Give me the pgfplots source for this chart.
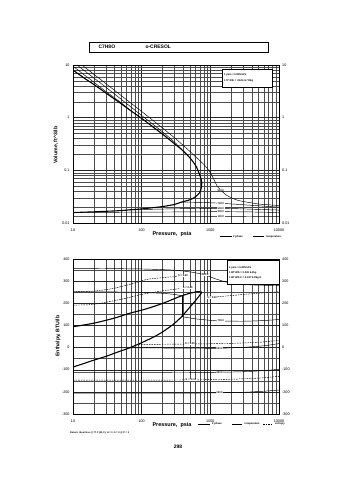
\documentclass[border=0pt]{standalone}
\usepackage{pgfplots}
\pgfplotsset{compat=1.18}
\usepackage{fontspec}
\setmainfont{Liberation Sans}
\tikzset{
  domeline/.style={line width=1.1pt, black, smooth, tension=0.4},
  templine/.style={line width=0.45pt, black, smooth, tension=0.4},
  vline/.style={line width=0.4pt, black},
  entline/.style={line width=0.45pt, black, dash pattern=on 1.6pt off 1pt, smooth, tension=0.4},
  clab/.style={font=\fontsize{2.6}{3}\selectfont\bfseries, fill=white, inner sep=0.3pt},
  rlab/.style={font=\fontsize{3.7}{4}\selectfont, anchor=west, inner sep=0pt, xshift=3bp},
  smalltxt/.style={anchor=west, font=\fontsize{2.6}{3}\selectfont\bfseries, inner sep=0pt}
}
\begin{document}
\begin{tikzpicture}
\path[use as bounding box] (0bp,0bp) rectangle (355bp,480bp);
% ---------------- Top chart: Volume ----------------
\begin{axis}[at={(73bp,257bp)}, anchor=south west, scale only axis, width=206bp, height=158bp,
  xmode=log, ymode=log, xmin=10, xmax=10000, ymin=0.01, ymax=10,
  grid=both, clip mode=individual,
  major grid style={draw=black!85, line width=0.35pt},
  minor grid style={draw=black!70, line width=0.3pt},
  axis line style={line width=0.5pt},
  major tick length=0pt, minor tick length=0pt,
  tick label style={font=\fontsize{3.7}{4}\selectfont},
  xtick={10,100,1000,10000}, xticklabels={10,100,1000,10000},
  minor xtick={20,30,40,50,60,70,80,90,200,300,400,500,600,700,800,900,2000,3000,4000,5000,6000,7000,8000,9000},
  xticklabel style={yshift=-2bp},
  ytick={0.01,0.1,1,10}, yticklabels={0.01,0.1,1,10},
  minor ytick={0.02,0.03,0.04,0.05,0.06,0.07,0.08,0.09,0.2,0.3,0.4,0.5,0.6,0.7,0.8,0.9,2,3,4,5,6,7,8,9}]
\addplot[domeline] coordinates {(10,8.0) (15,5.5) (20,4.3) (30,2.95) (50,1.85) (67,1.40) (100,0.97) (150,0.65) (200,0.49) (300,0.32) (383,0.248) (500,0.175) (600,0.128) (650,0.105) (700,0.082) (735,0.068) (750,0.057) (745,0.049) (725,0.042) (690,0.037) (600,0.031) (500,0.0275) (383,0.025) (300,0.0225) (200,0.0205) (100,0.0185) (67,0.0178) (50,0.0172) (20,0.0163) (10,0.0158)};
\addplot[templine] coordinates {(10,9.5) (15,6.3) (20,4.75) (30,3.15) (50,1.93) (67,1.40)};
\addplot[templine] coordinates {(11.5,10) (15,7.6) (20,5.7) (30,3.8) (50,2.25) (100,1.1) (200,0.54) (300,0.345) (383,0.248)};
\addplot[templine] coordinates {(13.5,10) (20,6.7) (30,4.45) (50,2.65) (100,1.31) (200,0.64) (300,0.415) (450,0.262) (600,0.185) (800,0.13) (950,0.10) (1100,0.072) (1250,0.051) (1429,0.042) (1700,0.034) (2500,0.027) (5000,0.0230) (10000,0.0215)};
\addplot[templine] coordinates {(383,0.025) (800,0.0245) (1429,0.0237) (3000,0.0222) (10000,0.0200)};
\addplot[templine] coordinates {(67,0.0178) (300,0.0186) (1429,0.0190) (4000,0.0183) (10000,0.0176)};
\addplot[templine] coordinates {(10,0.0158) (300,0.0162) (1429,0.0164) (4000,0.0162) (10000,0.0158)};
\addplot[templine] coordinates {(10,0.0132) (1429,0.0132) (4000,0.0133) (10000,0.0134)};
\node[clab] at (axis cs:1429,0.042) {900 F};
\node[clab] at (axis cs:1429,0.0237) {700 F};
\node[clab] at (axis cs:1429,0.0190) {500 F};
\node[clab] at (axis cs:1429,0.0164) {300 F};
\node[clab] at (axis cs:1429,0.0132) {100 F};
\node[rlab] at (axis cs:10000,10) {10};
\node[rlab] at (axis cs:10000,1) {1};
\node[rlab] at (axis cs:10000,0.1) {0.1};
\node[rlab] at (axis cs:10000,0.01) {0.01};
\end{axis}
% ---------------- Bottom chart: Enthalpy ----------------
\begin{axis}[at={(73bp,66bp)}, anchor=south west, scale only axis, width=206bp, height=155bp,
  xmode=log, xmin=10, xmax=10000, ymin=-300, ymax=400,
  grid=both, clip mode=individual,
  major grid style={draw=black!85, line width=0.35pt},
  minor grid style={draw=black!70, line width=0.3pt},
  axis line style={line width=0.5pt},
  major tick length=0pt, minor tick length=0pt,
  tick label style={font=\fontsize{3.7}{4}\selectfont},
  xtick={10,100,1000,10000}, xticklabels={10,100,1000,10000},
  minor xtick={20,30,40,50,60,70,80,90,200,300,400,500,600,700,800,900,2000,3000,4000,5000,6000,7000,8000,9000},
  xticklabel style={yshift=-2bp},
  ytick={-300,-200,-100,0,100,200,300,400}, yticklabels={-300,-200,-100,0,100,200,300,400},
  minor ytick={-250,-150,-50,50,150,250,350}]
\addplot[domeline] coordinates {(10,-88) (15,-70) (20,-57) (30,-40) (45,-20) (67,-1) (100,22) (150,48) (200,70) (289,105) (383,140) (505,183) (600,210) (668,228) (720,241) (745,248) (735,251) (700,252) (632,252) (500,245) (383,234) (300,221) (200,199) (132,180) (100,169) (67,155) (40,133) (20,110) (10,94)};
% isotherms
\addplot[templine] coordinates {(10,358) (30,357) (100,355) (200,352) (320,349) (500,342) (700,334) (850,328) (1200,310) (1950,292) (4000,283) (10000,280)};
\addplot[templine] coordinates {(10,252) (50,251) (100,249) (200,245) (300,240) (383,234)};
\addplot[vline] coordinates {(383,140) (383,234)};
\addplot[templine] coordinates {(383,140) (600,130) (1000,123) (1429,120) (3000,119) (6000,122) (10000,127)};
\addplot[templine] coordinates {(67,-1) (200,-2) (600,-3) (1370,-3) (3000,1) (6000,8) (10000,18)};
\addplot[templine] coordinates {(10,-113) (100,-113) (1000,-112) (3000,-109) (6000,-104) (10000,-98)};
\addplot[templine] coordinates {(10,-206) (100,-206) (1000,-205) (3000,-202) (6000,-197) (10000,-192)};
% isentropes
\addplot[entline] coordinates {(10,252) (20,255) (40,268) (80,292) (120,308) (200,316) (330,321)};
\addplot[entline] coordinates {(10,192) (20,195) (50,218) (100,240) (200,256) (350,266)};
\addplot[entline] coordinates {(1057,227) (2000,235) (4000,243) (10000,252)};
\addplot[entline] coordinates {(90,14) (200,15) (505,16) (2000,19) (5000,24) (10000,32)};
\addplot[entline] coordinates {(10,-147) (100,-147) (522,-146) (2000,-143) (5000,-138) (10000,-130)};
\node[clab] at (axis cs:400,325) {S = 0.50};
\node[clab] at (axis cs:850,328) {900 F};
\node[clab] at (axis cs:470,270) {S = 0.40};
\node[clab] at (axis cs:1057,227) {S = 0.30};
\node[clab] at (axis cs:1429,120) {700 F};
\node[clab] at (axis cs:505,16) {S = 0.00};
\node[clab] at (axis cs:1370,-3) {500 F};
\node[clab] at (axis cs:522,-146) {S = -0.10};
\node[clab] at (axis cs:1370,-112) {300 F};
\node[clab] at (axis cs:1370,-205) {100 F};
\node[rlab] at (axis cs:10000,400) {400};
\node[rlab] at (axis cs:10000,300) {300};
\node[rlab] at (axis cs:10000,200) {200};
\node[rlab] at (axis cs:10000,100) {100};
\node[rlab] at (axis cs:10000,0) {0};
\node[rlab] at (axis cs:10000,-100) {-100};
\node[rlab] at (axis cs:10000,-200) {-200};
\node[rlab] at (axis cs:10000,-300) {-300};
\end{axis}
% ---------------- Decorations ----------------
\begin{scope}[x=1bp,y=1bp]
\draw[line width=0.5pt] (89,428) rectangle (268,438);
\node[anchor=west, font=\fontsize{5}{6}\selectfont\bfseries] at (95,433) {C7H8O};
\node[anchor=west, font=\fontsize{5}{6}\selectfont\bfseries] at (142,433) {o-CRESOL};
\draw[fill=white, line width=0.4pt] (222,393) rectangle (272,411);
\node[smalltxt] at (224,404.7) {1 psia = 6.895 kPa};
\node[smalltxt] at (224,399) {1 ft\^{}3/lb = .0624 m\^{}3/kg};
\draw[fill=white, line width=0.4pt] (227,196) rectangle (279.5,220);
\node[smalltxt] at (229,211.7) {1 psia = 6.895 kPa};
\node[smalltxt] at (229,207) {1 BTU/lb = 2.326 kJ/kg};
\node[smalltxt] at (229,202.3) {1 BTU/lb F = 4.187 kJ/kg K};
\node[rotate=90, font=\fontsize{5.2}{6}\selectfont\bfseries] at (56,335) {Volume, ft\^{}3/lb};
\node[rotate=90, font=\fontsize{5.2}{6}\selectfont\bfseries] at (58,144) {Enthalpy, BTU/lb};
\node[font=\fontsize{5.5}{6}\selectfont\bfseries] at (172,246) {Pressure,\ \ psia};
\node[font=\fontsize{5.5}{6}\selectfont\bfseries] at (172,55) {Pressure,\ \ psia};
\draw[line width=1.1pt] (220,243.3) -- (231.5,243.3);
\node[smalltxt] at (233,243.3) {2 phase};
\draw[line width=0.45pt] (253,243.3) -- (264,243.3);
\node[smalltxt] at (266,243.3) {temperature};
\draw[line width=1.1pt] (198,55.7) -- (210,55.7);
\node[smalltxt] at (212,55.7) {2 phase};
\draw[line width=0.45pt] (232,55.7) -- (242,55.7);
\node[smalltxt] at (244.5,55.7) {temperature};
\draw[line width=0.45pt, dash pattern=on 1.6pt off 1pt] (263,55.7) -- (273,55.7);
\node[smalltxt] at (275,55.7) {entropy};
\node[anchor=west, font=\fontsize{2.4}{3}\selectfont\bfseries, inner sep=0pt] at (70,47.3) {Datum: Ideal Gas @ 77 F (25 C), H = 0, S = 0 @ P = 0};
\node[font=\fontsize{5}{6}\selectfont\bfseries] at (178,33) {298};
\end{scope}
\end{tikzpicture}
\end{document}
